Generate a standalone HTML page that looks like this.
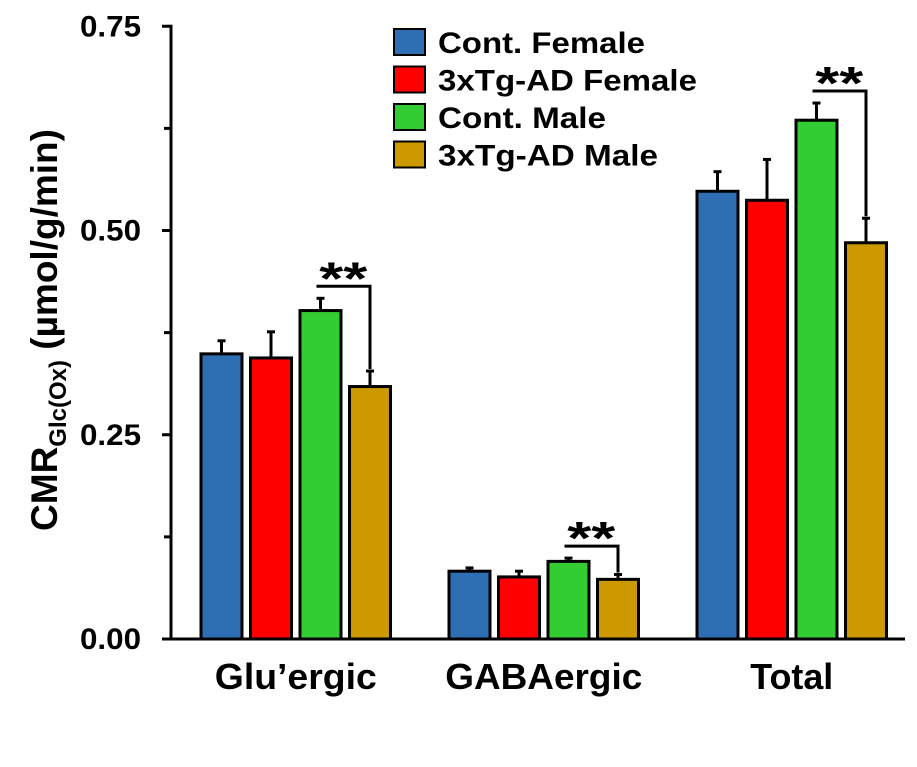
<!DOCTYPE html>
<html><head><meta charset="utf-8"><style>
body{margin:0;background:#fff}
svg{display:block;font-family:"Liberation Sans",Arial,sans-serif;font-weight:bold}
</style></head><body>
<svg id="c" width="917" height="767" viewBox="0 0 917 767"></svg>
<script>
const categories=["Glu’ergic","GABAergic","Total"];
const series=["Cont. Female","3xTg-AD Female","Cont. Male","3xTg-AD Male"];
const colors=["#2e6fb4","#ff0000","#33cc33","#cc9900"];
const contFemale=[0.349,0.083,0.548];
const tgFemale=[0.344,0.076,0.537];
const contMale=[0.402,0.095,0.635];
const tgMale=[0.309,0.073,0.485];
const errContFemale=[0.016,0.004,0.024];
const errTgFemale=[0.032,0.007,0.050];
const errContMale=[0.015,0.004,0.021];
const errTgMale=[0.019,0.006,0.030];
const majorTicks=[0,0.25,0.5,0.75];
const tickLabels=["0.00","0.25","0.50","0.75"];
const minorTicks=[0.125,0.375,0.625];
const values=[contFemale,tgFemale,contMale,tgMale];
const errs=[errContFemale,errTgFemale,errContMale,errTgMale];

const svg=document.getElementById('c');
const NS="http://www.w3.org/2000/svg";
const y0=639,ppu=817,axisX=171;
const y=v=>y0-v*ppu;
const groupStart=[201,449,697],step=49.5,bw=41;
function el(t,a,p){const e=document.createElementNS(NS,t);for(const k in a)e.setAttribute(k,a[k]);(p||svg).appendChild(e);return e;}

let ax=el('line',{x1:axisX,y1:y(0)+1.5,x2:axisX,y2:y(0.75)-1.5,stroke:'#000','stroke-width':3});


let xa=el('line',{x1:axisX-1.5,y1:y0,x2:905,y2:y0,stroke:'#000','stroke-width':3});


majorTicks.forEach((v,i)=>{
  const t=el('line',{x1:axisX-9,y1:y(v),x2:axisX,y2:y(v),stroke:'#000','stroke-width':3});
  
  
  const l=el('text',{x:141,y:y(v)+10,'text-anchor':'end','font-size':30,textLength:61,lengthAdjust:'spacingAndGlyphs'});
  l.textContent=tickLabels[i];
  
  
});
minorTicks.forEach(v=>{
  const t=el('line',{x1:axisX-7,y1:y(v),x2:axisX,y2:y(v),stroke:'#000','stroke-width':3});
  
  
});
const labelW=[162,197,83];
categories.forEach((c,g)=>{
  values.forEach((arr,s)=>{
    const x=groupStart[g]+s*step, v=arr[g], e=errs[s][g], cx=x+bw/2;
    const eb=el('line',{x1:cx,y1:y(v),x2:cx,y2:y(v+e),stroke:'#000','stroke-width':3});
    
    
    const cap=el('line',{x1:cx-4,y1:y(v+e),x2:cx+4,y2:y(v+e),stroke:'#000','stroke-width':3});
    
    
    const r=el('rect',{x:x,y:y(v),width:bw,height:y0-y(v),fill:colors[s],stroke:'#000','stroke-width':3});
    
    
  });
  const lb=el('text',{x:groupStart[g]+1.5*step+bw/2,y:689,'text-anchor':'middle','font-size':36,textLength:labelW[g],lengthAdjust:'spacingAndGlyphs'});
  lb.textContent=c;
  
  
  const xg=groupStart[g]+2*step+bw/2, xt=groupStart[g]+3*step+bw/2;
  const top=y(contMale[g]+errContMale[g])-12, bot=y(tgMale[g]+errTgMale[g])-2;
  const br=el('polyline',{points:`${xg-4},${top} ${xt},${top} ${xt},${bot}`,fill:'none',stroke:'#000','stroke-width':3});
  
  
  const st=el('text',{x:(xg+xt)/2-2,y:top+8,'text-anchor':'middle','font-size':46,'font-weight':'bold',textLength:48,lengthAdjust:'spacingAndGlyphs'});
  st.textContent='**';
  
  
});
const legW=[207,259,168,220];
series.forEach((s,i)=>{
  const yy=29+i*37.5;
  const r=el('rect',{x:394,y:yy,width:31,height:26,fill:colors[i],stroke:'#000','stroke-width':2});
  
  
  const t=el('text',{x:438,y:yy+24,'font-size':30,textLength:legW[i],lengthAdjust:'spacingAndGlyphs'});
  t.textContent=s;
  
  
});
const yt=el('text',{transform:'translate(57,330) rotate(-90)','text-anchor':'middle','font-size':37});


yt.innerHTML='CMR<tspan font-size="24" dy="9">Glc(Ox)</tspan><tspan dy="-9"> (µmol/g/min)</tspan>';
</script>
</body></html>
